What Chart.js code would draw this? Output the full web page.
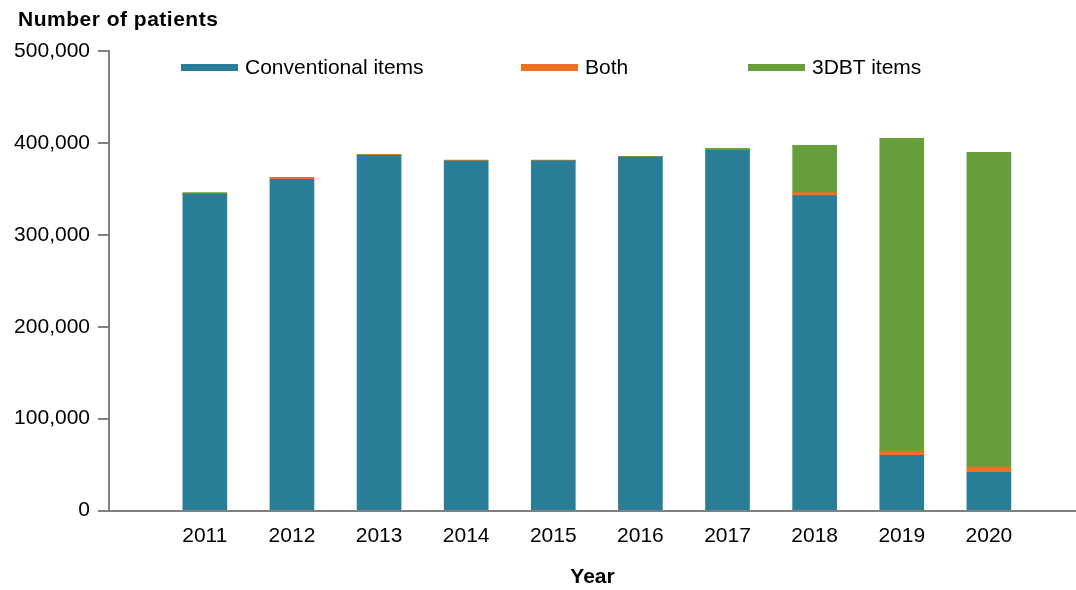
<!DOCTYPE html>
<html>
<head>
<meta charset="utf-8">
<script src="https://cdn.jsdelivr.net/npm/chart.js@4.4.1/dist/chart.umd.min.js"></script>
<style>
  body { margin: 0; background: #fff; font-family: "Liberation Sans", Arial, sans-serif; }
  #wrap { position: relative; width: 1076px; height: 590px; }
  #title { position: absolute; left: 18px; top: 7px; font-size: 21px; font-weight: bold; line-height: 24px; color: #000; letter-spacing: 0.5px; }
  #legend { position: absolute; left: 0; top: 0; }
  .item { position: absolute; top: 55px; display: flex; align-items: center; white-space: nowrap; font-size: 21px; color: #000; }
  .swatch { display: inline-block; width: 57px; height: 7px; margin-right: 7px; }
</style>
</head>
<body>
<div id="wrap">
  <canvas id="patientsChart"></canvas>
  <div id="title">Number of patients</div>
  <div id="legend"></div>
</div>
<script>
const years = [2011, 2012, 2013, 2014, 2015, 2016, 2017, 2018, 2019, 2020];
const conventional = [344500, 360500, 386500, 380300, 380500, 384700, 392300, 342600, 60100, 41500];
const both = [600, 1200, 600, 400, 200, 300, 1000, 3300, 4700, 5800];
const dbt = [800, 800, 600, 700, 700, 500, 900, 51500, 340300, 342500];
const seriesNames = ['Conventional items', 'Both', '3DBT items'];
const seriesColors = ['#2a7d96', '#f07023', '#679e3c'];
const yTicks = [0, 100000, 200000, 300000, 400000, 500000];

const font = '"Liberation Sans", Arial, sans-serif';
const axisGrey = '#808080';

new Chart(document.getElementById('patientsChart').getContext('2d'), {
    type: 'bar',
    data: {
        labels: years,
        datasets: [conventional, both, dbt].map((d, i) => ({
            label: seriesNames[i],
            data: d,
            backgroundColor: seriesColors[i],
            borderWidth: 0,
            barThickness: 44,
        })),
    },
    options: {
        responsive: true,
        maintainAspectRatio: false,
        animation: false,
        layout: { padding: { left: 10, right: 0, top: 51, bottom: 0 } },
        plugins: {
            legend: { display: false },
            tooltip: { enabled: false },
            title: { display: false },
        },
        scales: {
            x: {
                type: 'linear',
                stacked: true,
                offset: false,
                min: 2009.9,
                max: 2021,
                afterBuildTicks: s => { s.ticks = years.map(v => ({ value: v })); },
                grid: { display: false, drawTicks: false },
                border: { color: axisGrey, width: 2 },
                ticks: {
                    color: '#000',
                    font: { family: font, size: 21 },
                    padding: 13,
                    maxRotation: 0,
                    callback: v => String(v),
                },
                title: {
                    display: true,
                    text: 'Year',
                    color: '#000',
                    font: { family: font, size: 21, weight: 'bold' },
                    padding: { top: 3, bottom: 0 },
                },
            },
            y: {
                stacked: true,
                min: 0,
                max: 500000,
                afterBuildTicks: s => { s.ticks = yTicks.map(v => ({ value: v })); },
                afterFit: s => { s.width = 99; },
                grid: { drawOnChartArea: false, drawTicks: true, tickLength: 11, color: axisGrey, lineWidth: 2 },
                border: { color: axisGrey, width: 2 },
                ticks: {
                    color: '#000',
                    font: { family: font, size: 21 },
                    padding: 8,
                    callback: v => v.toLocaleString('en-US'),
                },
            },
        },
    },
});

// legend laid over the plot area, like the original
const legendLefts = [181, 521, 748];
const legend = document.getElementById('legend');
seriesNames.forEach((name, i) => {
    const item = document.createElement('div');
    item.className = 'item';
    item.style.left = legendLefts[i] + 'px';
    item.innerHTML = '<span class="swatch" style="background:' + seriesColors[i] + '"></span>' + name;
    legend.appendChild(item);
});
</script>
</body>
</html>
